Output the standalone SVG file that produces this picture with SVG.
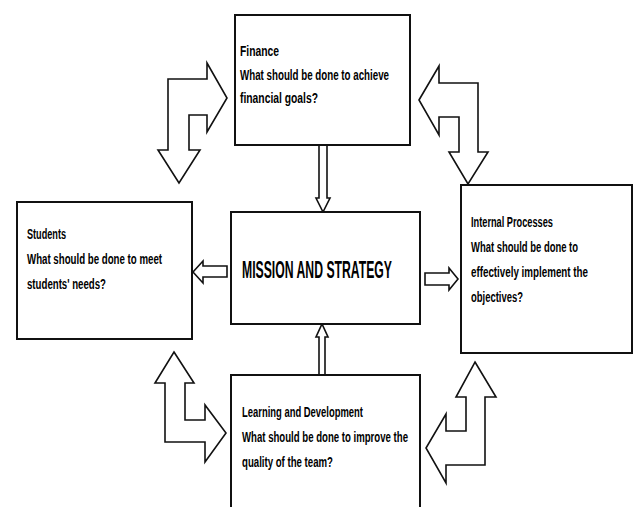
<svg xmlns="http://www.w3.org/2000/svg" width="634" height="507" viewBox="0 0 634 507">
<style>
.box{fill:#fff;stroke:#111;stroke-width:2}
.arr{fill:#fff;stroke:#111;stroke-width:1.6;stroke-linejoin:miter}
.t{font-family:"Liberation Sans",Arial,sans-serif;font-weight:bold;font-size:14px;fill:#000}
.m{font-family:"Liberation Sans",Arial,sans-serif;font-weight:bold;font-size:24px;fill:#000}
</style>
<rect width="634" height="507" fill="#fff"/>
<g id="connectors">
<path class="arr" d="M207,63 L227,98 L207,132 L207,115 L189,115 L189,150 L200,150 L179,183 L158,150 L168,150 L168,79 L207,79 Z"/>
<path class="arr" d="M419,100 L439,66 L439,83 L478,83 L478,152 L488,152 L468,184 L449,152 L459,152 L459,117 L439,117 L439,135 Z"/>
<path class="arr" d="M174,352 L194,383 L185,383 L185,420 L205,420 L205,405 L226,433 L205,462 L205,442 L165,442 L165,383 L155,383 Z"/>
<path class="arr" d="M475,362 L496,397 L485,397 L485,465 L446,465 L446,483 L426,448 L446,414 L446,431 L466,431 L466,397 L456,397 Z"/>
<path class="arr" d="M319,145 L327,145 L327,198 L330,198 L323,212 L316,198 L319,198 Z"/>
<path class="arr" d="M227,266 L203,266 L203,261 L193,272 L203,283 L203,277 L227,277 Z"/>
<path class="arr" d="M425,273 L449,273 L449,268 L458,279 L449,290 L449,285 L425,285 Z"/>
<path class="arr" d="M319,375 L319,337 L316,337 L322,324 L328,337 L325,337 L325,375 Z"/>
</g>
<g id="finance">
<rect class="box" x="235" y="15" width="175" height="130"/>
<text class="t" x="240" y="56" textLength="39" lengthAdjust="spacingAndGlyphs">Finance</text>
<text class="t" x="240" y="80" textLength="149" lengthAdjust="spacingAndGlyphs">What should be done to achieve</text>
<text class="t" x="240" y="103" textLength="78" lengthAdjust="spacingAndGlyphs">financial goals?</text>
</g>
<g id="students">
<rect class="box" x="17" y="202" width="175" height="137"/>
<text class="t" x="27" y="239" textLength="39" lengthAdjust="spacingAndGlyphs">Students</text>
<text class="t" x="27" y="264" textLength="135" lengthAdjust="spacingAndGlyphs">What should be done to meet</text>
<text class="t" x="27" y="289" textLength="79" lengthAdjust="spacingAndGlyphs">students' needs?</text>
</g>
<g id="mission">
<rect class="box" x="231" y="212" width="189" height="112"/>
<text class="m" x="242" y="278" textLength="150" lengthAdjust="spacingAndGlyphs">MISSION AND STRATEGY</text>
</g>
<g id="internal">
<rect class="box" x="461" y="185" width="171" height="168"/>
<text class="t" x="471" y="227" textLength="82" lengthAdjust="spacingAndGlyphs">Internal Processes</text>
<text class="t" x="471" y="252" textLength="107" lengthAdjust="spacingAndGlyphs">What should be done to</text>
<text class="t" x="471" y="277" textLength="117" lengthAdjust="spacingAndGlyphs">effectively implement the</text>
<text class="t" x="471" y="302" textLength="52" lengthAdjust="spacingAndGlyphs">objectives?</text>
</g>
<g id="learning">
<rect class="box" x="231" y="375" width="189" height="140"/>
<text class="t" x="242" y="417" textLength="121" lengthAdjust="spacingAndGlyphs">Learning and Development</text>
<text class="t" x="242" y="442" textLength="166" lengthAdjust="spacingAndGlyphs">What should be done to improve the</text>
<text class="t" x="242" y="467" textLength="91" lengthAdjust="spacingAndGlyphs">quality of the team?</text>
</g>
</svg>
